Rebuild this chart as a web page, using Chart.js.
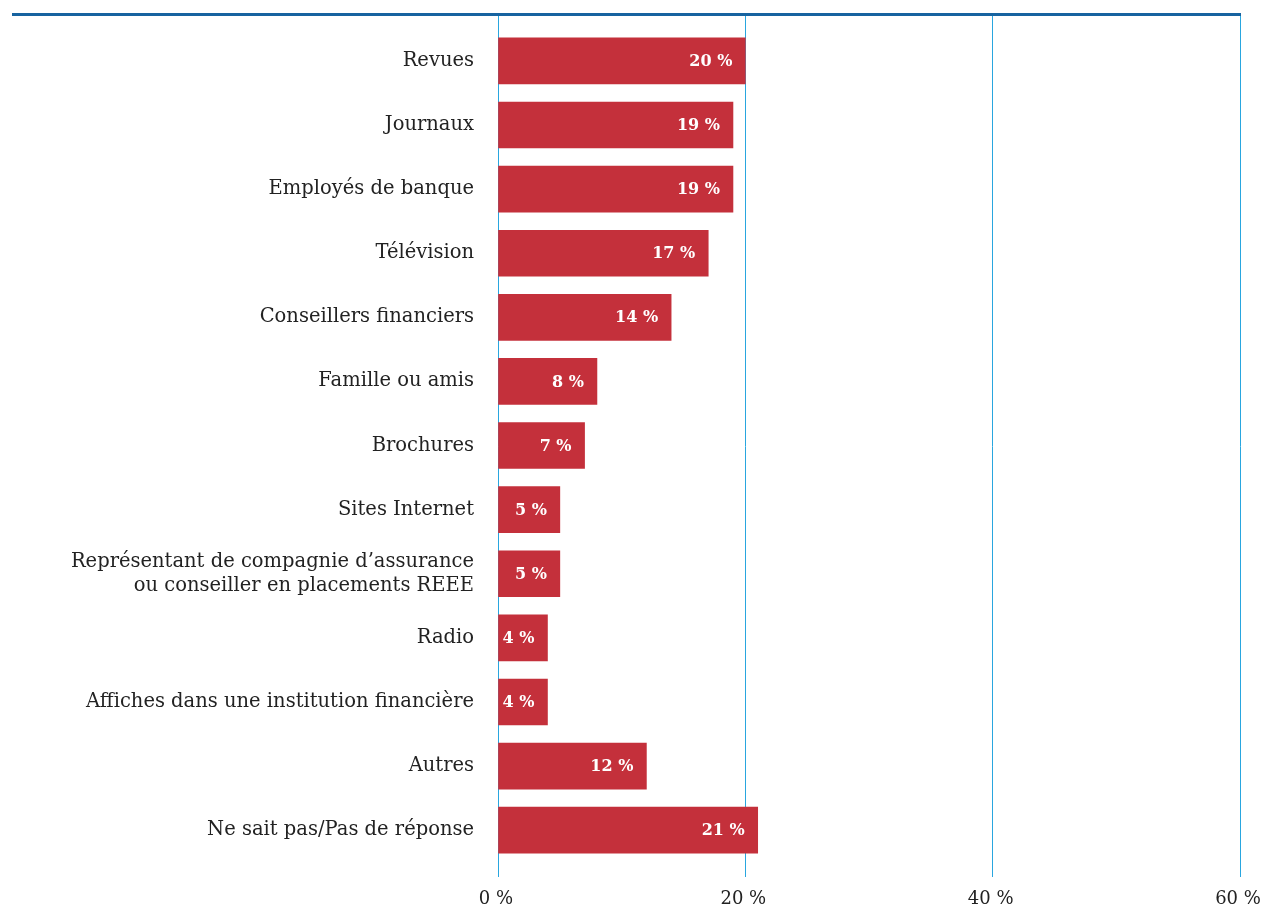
<!DOCTYPE html>
<html>
<head>
<meta charset="utf-8">
<script src="https://cdn.jsdelivr.net/npm/chart.js@4/dist/chart.umd.min.js"></script>
<style>
    html, body { margin: 0; padding: 0; background: #fff; }
    #wrap { width: 1262px; height: 909px; }
</style>
</head>
<body>
<div id="wrap"><canvas id="chart"></canvas></div>
<script>
const categories = [
    `Revues`,
    `Journaux`,
    `Employés de banque`,
    `Télévision`,
    `Conseillers financiers`,
    `Famille ou amis`,
    `Brochures`,
    `Sites Internet`,
    [`Représentant de compagnie d’assurance`, `ou conseiller en placements REEE`],
    `Radio`,
    `Affiches dans une institution financière`,
    `Autres`,
    `Ne sait pas/Pas de réponse`
];
const values = [20, 19, 19, 17, 14, 8, 7, 5, 5, 4, 4, 12, 21];
const xTicks = [0, 20, 40, 60];

const fontFamily = `"DejaVu Serif", "Liberation Serif", serif`;

// top rule across the whole chart
const topRule = {
    id: `topRule`,
    afterDraw(chart) {
        const ctx = chart.ctx;
        ctx.save();
        ctx.strokeStyle = `#1763a0`;
        ctx.lineWidth = 3;
        ctx.beginPath();
        ctx.moveTo(12, chart.chartArea.top - 1.5);
        ctx.lineTo(chart.chartArea.right + 1, chart.chartArea.top - 1.5);
        ctx.stroke();
        ctx.restore();
    }
};

// value labels inside the bar ends
const barLabels = {
    id: `barLabels`,
    afterDatasetsDraw(chart) {
        const ctx = chart.ctx;
        const meta = chart.getDatasetMeta(0);
        ctx.save();
        ctx.fillStyle = `#ffffff`;
        ctx.font = `bold 16px ${fontFamily}`;
        ctx.textAlign = `right`;
        ctx.textBaseline = `middle`;
        meta.data.forEach((bar, i) => {
            ctx.fillText(`${values[i]} %`, bar.x - 13, bar.y + 1);
        });
        ctx.restore();
    }
};

const ctx = document.querySelector(`#chart`).getContext(`2d`);
const myChart = new Chart(ctx, {
    type: `bar`,
    data: {
        datasets: [
            {
                data: values.map((v, i) => ({ x: v, y: i })),
                backgroundColor: `#c4303b`,
                borderWidth: 0,
                barThickness: 46
            }
        ]
    },
    options: {
        indexAxis: `y`,
        responsive: true,
        maintainAspectRatio: false,
        animation: false,
        layout: {
            padding: { top: 16, right: 22, left: 0, bottom: 0 }
        },
        scales: {
            x: {
                type: `linear`,
                min: 0,
                max: 60,
                afterBuildTicks: scale => {
                    scale.ticks = xTicks.map(v => ({ value: v }));
                },
                afterFit: scale => {
                    scale.height = 32;
                    scale.paddingLeft = 0;
                    scale.paddingRight = 0;
                },
                ticks: {
                    padding: 12,
                    labelOffset: -2,
                    color: `#222`,
                    font: { family: fontFamily, size: 18 },
                    callback: v => `${v} %`
                },
                grid: {
                    color: `#29a6df`,
                    lineWidth: 1,
                    drawTicks: false
                },
                border: { display: false }
            },
            y: {
                type: `linear`,
                reverse: true,
                offset: false,
                min: -0.7,
                max: 12.73,
                afterBuildTicks: scale => {
                    scale.ticks = categories.map((c, i) => ({ value: i }));
                },
                afterFit: scale => {
                    scale.width = 498;
                    scale.paddingTop = 0;
                    scale.paddingBottom = 0;
                },
                ticks: {
                    padding: 24,
                    color: `#222`,
                    font: { family: fontFamily, size: 19.5, lineHeight: 1.23 },
                    callback: v => categories[v]
                },
                grid: { display: false, drawTicks: false, offset: false },
                border: { display: false }
            }
        },
        plugins: {
            legend: { display: false },
            tooltip: { enabled: false }
        }
    },
    plugins: [topRule, barLabels]
});
</script>
</body>
</html>
